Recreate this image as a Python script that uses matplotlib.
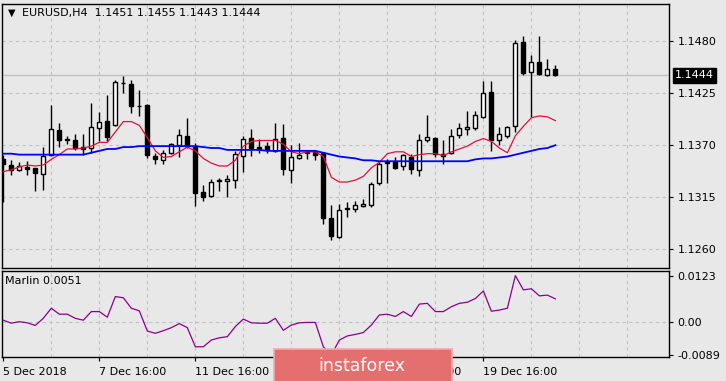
import numpy as np
import matplotlib
matplotlib.use("Agg")
import matplotlib.pyplot as plt
from matplotlib.patches import FancyBboxPatch
from matplotlib.transforms import blended_transform_factory

# EURUSD H4 candles
opens = [1.1355, 1.1349, 1.1344, 1.1347, 1.1346, 1.1340, 1.1360, 1.1386, 1.1376, 1.1375,
         1.1368, 1.1367, 1.1388, 1.1396, 1.1391, 1.1436, 1.1435, 1.1411, 1.1413, 1.1359,
         1.1354, 1.1362, 1.1370, 1.1380, 1.1369, 1.1320, 1.1316, 1.1332, 1.1332, 1.1333,
         1.1359, 1.1378, 1.1368, 1.1369, 1.1364, 1.1378, 1.1344, 1.1356, 1.1362, 1.1363,
         1.1362, 1.1293, 1.1273, 1.1302, 1.1302, 1.1306, 1.1307, 1.1330, 1.1351, 1.1352,
         1.1348, 1.1358, 1.1344, 1.1375, 1.1378, 1.1361, 1.1362, 1.1381, 1.1387, 1.1388,
         1.1400, 1.1426, 1.1375, 1.1380, 1.1390, 1.1479, 1.1447, 1.1458, 1.1444, 1.1451]
highs = [1.1360, 1.1354, 1.1352, 1.1353, 1.1346, 1.1368, 1.1413, 1.1393, 1.1380, 1.1382,
         1.1382, 1.1415, 1.1405, 1.1423, 1.1439, 1.1443, 1.1439, 1.1428, 1.1414, 1.1362,
         1.1365, 1.1372, 1.1387, 1.1399, 1.1372, 1.1328, 1.1334, 1.1335, 1.1338, 1.1364,
         1.1380, 1.1387, 1.1377, 1.1373, 1.1393, 1.1392, 1.1370, 1.1372, 1.1365, 1.1365,
         1.1363, 1.1307, 1.1308, 1.1310, 1.1311, 1.1313, 1.1331, 1.1353, 1.1355, 1.1358,
         1.1361, 1.1361, 1.1382, 1.1402, 1.1379, 1.1375, 1.1387, 1.1393, 1.1406, 1.1406,
         1.1438, 1.1438, 1.1389, 1.1390, 1.1481, 1.1486, 1.1465, 1.1486, 1.1461, 1.1455]
lows = [1.1310, 1.1338, 1.1343, 1.1338, 1.1321, 1.1323, 1.1359, 1.1368, 1.1371, 1.1365,
        1.1360, 1.1362, 1.1374, 1.1374, 1.1390, 1.1425, 1.1404, 1.1401, 1.1356, 1.1350,
        1.1350, 1.1361, 1.1358, 1.1367, 1.1306, 1.1311, 1.1315, 1.1322, 1.1315, 1.1325,
        1.1342, 1.1359, 1.1362, 1.1362, 1.1363, 1.1338, 1.1330, 1.1355, 1.1355, 1.1354,
        1.1287, 1.1270, 1.1272, 1.1294, 1.1299, 1.1305, 1.1305, 1.1328, 1.1330, 1.1345,
        1.1344, 1.1339, 1.1337, 1.1373, 1.1357, 1.1350, 1.1361, 1.1378, 1.1381, 1.1386,
        1.1399, 1.1364, 1.1370, 1.1378, 1.1384, 1.1444, 1.1400, 1.1444, 1.1443, 1.1443]
closes = [1.1350, 1.1344, 1.1348, 1.1345, 1.1341, 1.1359, 1.1387, 1.1375, 1.1377, 1.1367,
          1.1366, 1.1389, 1.1395, 1.1379, 1.1437, 1.1436, 1.1412, 1.1411, 1.1360, 1.1355,
          1.1362, 1.1371, 1.1381, 1.1369, 1.1319, 1.1315, 1.1331, 1.1333, 1.1334, 1.1361,
          1.1377, 1.1367, 1.1366, 1.1366, 1.1377, 1.1345, 1.1357, 1.1360, 1.1363, 1.1360,
          1.1293, 1.1274, 1.1301, 1.1304, 1.1307, 1.1308, 1.1329, 1.1350, 1.1352, 1.1346,
          1.1360, 1.1345, 1.1376, 1.1379, 1.1361, 1.1359, 1.1380, 1.1388, 1.1389, 1.1402,
          1.1425, 1.1376, 1.1382, 1.1389, 1.1478, 1.1446, 1.1458, 1.1445, 1.1451, 1.1444]

# moving averages (red fast, blue slow)
ma_red = [1.1342, 1.1344, 1.1347, 1.1349, 1.1348, 1.1349, 1.1355, 1.1360, 1.1366, 1.1366,
          1.1367, 1.1369, 1.1373, 1.1373, 1.1384, 1.1395, 1.1395, 1.1391, 1.1378, 1.1364,
          1.1357, 1.1358, 1.1363, 1.1368, 1.1364, 1.1356, 1.1351, 1.1348, 1.1348, 1.1354,
          1.1369, 1.1374, 1.1375, 1.1375, 1.1375, 1.1371, 1.1363, 1.1361, 1.1363, 1.1363,
          1.1358, 1.1336, 1.1331, 1.1331, 1.1333, 1.1337, 1.1346, 1.1352, 1.1361, 1.1363,
          1.1363, 1.1358, 1.1360, 1.1361, 1.1361, 1.1359, 1.1363, 1.1366, 1.1369, 1.1374,
          1.1377, 1.1374, 1.1367, 1.1362, 1.1380, 1.1390, 1.1399, 1.1401, 1.1400, 1.1396]
ma_blue = [1.1361, 1.1361, 1.1360, 1.1360, 1.1360, 1.1360, 1.1360, 1.1360, 1.1360, 1.1360,
           1.1360, 1.1362, 1.1364, 1.1366, 1.1366, 1.1368, 1.1368, 1.1369, 1.1369, 1.1369,
           1.1369, 1.1369, 1.1369, 1.1369, 1.1369, 1.1368, 1.1367, 1.1367, 1.1365, 1.1365,
           1.1365, 1.1365, 1.1365, 1.1364, 1.1364, 1.1364, 1.1364, 1.1364, 1.1364, 1.1364,
           1.1362, 1.1360, 1.1358, 1.1357, 1.1356, 1.1354, 1.1354, 1.1353, 1.1353, 1.1353,
           1.1353, 1.1353, 1.1353, 1.1353, 1.1353, 1.1353, 1.1353, 1.1353, 1.1353, 1.1355,
           1.1356, 1.1356, 1.1357, 1.1358, 1.1360, 1.1362, 1.1364, 1.1366, 1.1367, 1.1370]

# Marlin oscillator
marlin = [0.0004, -0.0004, 0.0000, -0.0003, -0.0010, 0.0009, 0.0036, 0.0020, 0.0020, 0.0009,
          0.0004, 0.0027, 0.0027, 0.0012, 0.0067, 0.0064, 0.0036, 0.0029, -0.0025, -0.0031,
          -0.0024, -0.0016, -0.0005, -0.0016, -0.0067, -0.0067, -0.0049, -0.0043, -0.0040, -0.0013,
          0.0007, -0.0003, -0.0004, -0.0004, 0.0009, -0.0023, -0.0009, -0.0003, -0.0002, -0.0002,
          -0.0067, -0.0089, -0.0049, -0.0038, -0.0034, -0.0029, -0.0009, 0.0018, 0.0020, 0.0014,
          0.0027, 0.0014, 0.0047, 0.0049, 0.0027, 0.0027, 0.0040, 0.0049, 0.0052, 0.0062,
          0.0082, 0.0028, 0.0031, 0.0036, 0.0123, 0.0085, 0.0088, 0.0069, 0.0071, 0.0061]

price_ticks = [1.1260, 1.1315, 1.1370, 1.1425, 1.1480]
date_pos = [0, 12, 24, 36, 48, 60]
# the 13 Dec label sits fully under the watermark in the original
date_labels = ['5 Dec 2018', '7 Dec 16:00', '11 Dec 16:00', '',
               '17 Dec 16:00', '19 Dec 16:00']
last_price = 1.1444

BG = '#e8e8e8'
GRID = '#c2c2c2'
W, H = 726, 381

fig = plt.figure(figsize=(W / 100, H / 100), dpi=100, facecolor=BG)
ax = fig.add_axes([2.3 / W, 1 - 267.5 / H, 666.7 / W, 263.5 / H], facecolor=BG)
ax2 = fig.add_axes([2.3 / W, 1 - 357 / H, 666.7 / W, 86.3 / H], facecolor=BG)

o = np.array(opens)
c = np.array(closes)
idx = np.arange(len(c))

# grid
for a in (ax, ax2):
    for gx in range(6, 84, 6):
        a.axvline(gx, color=GRID, lw=0.8, ls=(0, (3, 3)), zorder=1)
for p in price_ticks:
    ax.axhline(p, color=GRID, lw=0.8, ls=(0, (3, 3)), zorder=1)
ax.axhline(last_price, color='#c0c0c0', lw=1, zorder=1)

# candles
ax.vlines(idx, lows, highs, color='black', lw=1, zorder=3)
bottoms = np.minimum(o, c)
heights = np.maximum(np.abs(c - o), 0.00002)
colors = ['white' if cl >= op else 'black' for op, cl in zip(o, c)]
ax.bar(idx, heights, 0.5, bottom=bottoms, color=colors, edgecolor='black',
       linewidth=1, zorder=4)

ax.plot(idx, ma_red, color='#e0103c', lw=0.9, zorder=5)
ax.plot(idx, ma_blue, color='#0000ff', lw=1.3, zorder=5)

ax.set_xlim(-0.125, 83.2)
ax.set_ylim(1.12405, 1.15195)
ax.set_xticks([])
ax.yaxis.tick_right()
ax.set_yticks(price_ticks)
ax.set_yticklabels(['%.4f' % p for p in price_ticks])
ax.tick_params(axis='y', length=3, pad=3, labelsize=8, direction='out')

tr = blended_transform_factory(ax.transAxes, ax.transData)
ax.text(1.009, last_price, '%.4f' % last_price, transform=tr, color='white',
        fontsize=8, va='center', ha='left', zorder=10,
        bbox=dict(boxstyle='square,pad=0.2', fc='black', ec='black'))

ax.text(9 / 666.7, (267.5 - 13) / 263.5, '\u25bc', transform=ax.transAxes,
        fontsize=7, va='center', ha='center')
ax.text(20 / 666.7, (267.5 - 13) / 263.5, 'EURUSD,H4  1.1451 1.1455 1.1443 1.1444',
        transform=ax.transAxes, fontsize=8, va='center', ha='left')

# lower panel
ax2.axhline(0, color=GRID, lw=0.8, ls=(0, (3, 3)), zorder=1)
ax2.plot(idx, marlin, color='#8b008b', lw=0.9, zorder=3)
ax2.set_xlim(-0.125, 83.2)
ax2.set_ylim(-0.00943, 0.01362)
ax2.yaxis.tick_right()
ax2.set_yticks([0.0123, 0.0, -0.0089])
ax2.set_yticklabels(['0.0123', '0.00', '-0.0089'])
ax2.tick_params(axis='y', length=3, pad=3, labelsize=8, direction='out')
ax2.set_xticks(date_pos)
ax2.set_xticklabels(date_labels, ha='left')
ax2.tick_params(axis='x', length=3, pad=4, labelsize=8, direction='out')
ax2.text(3 / 666.7, (357 - 281) / 86.3, 'Marlin 0.0051', transform=ax2.transAxes,
         fontsize=8, va='center', ha='left')

for a in (ax, ax2):
    for s in a.spines.values():
        s.set_color('black')
        s.set_linewidth(1)

# watermark
wm = FancyBboxPatch((274 / W, -0.01), 178 / W, 32 / H + 0.01,
                    boxstyle='square,pad=0', transform=fig.transFigure,
                    fc='#e36f6f', ec='#f2aaaa', lw=1.2, zorder=20)
fig.patches.append(wm)
fig.text(362 / W, 1 - 366 / H, 'instaforex', color='white', fontsize=12.5,
         ha='center', va='center', zorder=21)

fig.savefig('out.png', dpi=100, facecolor=BG)
